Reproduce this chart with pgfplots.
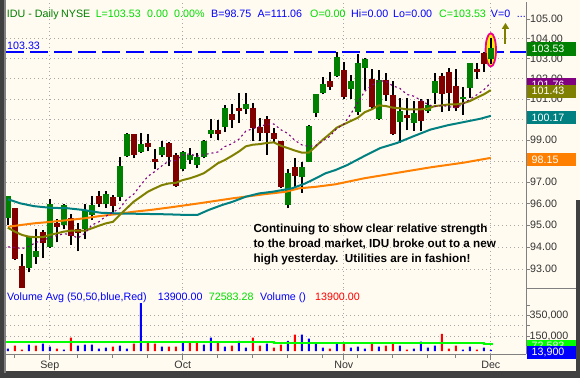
\documentclass[border=0pt]{standalone}
\usepackage{pgfplots}
\pgfplotsset{compat=1.18}
\usepackage{fontspec}
\setmainfont{Liberation Sans}
\usetikzlibrary{arrows.meta}
\definecolor{bg}{HTML}{FFFBF0}
\definecolor{framec}{HTML}{404040}
\definecolor{gridc}{HTML}{A8A8A8}
\definecolor{upc}{HTML}{008000}
\definecolor{dnc}{HTML}{800000}
\definecolor{olivec}{HTML}{808000}
\definecolor{tealc}{HTML}{008080}
\definecolor{orangec}{HTML}{FF8000}
\definecolor{purplec}{HTML}{800080}
\definecolor{limec}{HTML}{00DD00}
\definecolor{labc}{HTML}{333333}
\definecolor{dgreen}{HTML}{008000}
\definecolor{pureblue}{HTML}{0000FF}
\newcommand{\fs}{\fontsize{10.7bp}{12bp}\selectfont}
\pgfplotsset{candle/.style={unbounded coords=jump, empty line=jump}}
\begin{document}
\begin{tikzpicture}
\useasboundingbox (0bp,0bp) rectangle (580bp,378bp);
\fill[framec] (0bp,0bp) rectangle (580bp,378bp);
\fill[gray] (4bp,5bp) rectangle (6bp,378bp);
\fill[bg] (5.5bp,6.5bp) rectangle (576bp,378bp);
\fill[bg] (576bp,178bp) rectangle (580bp,378bp);

% ---------------- price panel (logarithmic price scale) ----------------
\begin{axis}[
  at={(6bp,90bp)}, anchor=south west,
  width=520bp, height=286bp, scale only axis,
  y coord trafo/.code={\pgfmathparse{100*ln(#1)}},
  y coord inv trafo/.code={\pgfmathparse{exp(#1/100)}},
  xmin=-0.257, xmax=74.03,
  ymin=92.147, ymax=105.87,
  clip mode=individual,
  axis x line*=bottom, axis y line*=right,
  x axis line style={draw=none},
  y axis line style={draw=gray, line width=1bp},
  xtick={6,25,48,69}, xticklabels={},
  x tick style={draw=none},
  xmajorgrids,
  ytick={93,94,95,96,97,98,99,100,101,102,103,104},
  yticklabels={93.00,94.00,95.00,96.00,97.00,{},99.00,{},101.00,102.00,103.00,104.00},
  extra y ticks={105}, extra y tick labels={105.00},
  extra y tick style={grid=none},
  ymajorgrids,
  grid style={draw=gridc, line width=0.8bp, dash pattern=on 0.8bp off 3.2bp},
  tick align=outside, major tick length=4bp,
  y tick style={draw=gray, line width=0.8bp},
  yticklabel style={anchor=west, inner sep=0pt, font=\fs, text=labc},
]
% breakout reference line
\addplot[pureblue, line width=1.3bp, dash pattern=on 18bp off 6bp] coordinates {(-0.257,103.33) (74.03,103.33)};
% highlight ellipse around the last bar
\addplot[only marks, mark=*, mark size=5.2bp, mark options={yscale=3.2, fill=yellow, draw=magenta, line width=1.8bp}] coordinates {(69,103.43)};
% wicks (low - high)
\addplot[black, line width=1.6bp, candle] table[header=false] {
0 95.0
0 96.35

1 93.4
1 95.8

2 92.15
2 93.67

3 92.85
3 94.44

4 93.23
4 94.82

5 93.49
5 94.77

6 93.97
6 96.2

7 94.21
7 95.3

8 94.8
8 96.0

9 94.1
9 95.5

10 93.8
10 95.1

11 94.36
11 95.96

12 95.23
12 96.33

13 95.85
13 96.6

14 95.78
14 96.6

15 95.5
15 96.4

16 96.13
16 98.18

17 98.2
17 99.35

18 98.13
18 99.3

19 98.38
19 99.35

20 98.46
20 99.3

21 97.62
21 98.55

22 98.18
22 98.98

23 97.76
23 98.9

24 96.78
24 98.4

25 97.53
25 98.46

26 97.86
26 98.62

27 97.65
27 98.38

28 98.13
28 99.02

29 99.1
29 100.0

30 99.02
30 99.97

31 99.38
31 100.68

32 99.6
32 100.73

33 99.84
33 101.3

34 100.24
34 101.3

35 98.94
35 100.78

36 98.94
36 100.08

37 98.3
37 100.16

38 98.86
38 99.6

39 96.71
39 98.95

40 95.78
40 97.62

41 96.78
41 98.13

42 96.5
42 97.93

43 97.93
43 99.71

44 100.11
44 101.22

45 101.22
45 102.08

46 101.46
46 102.33

47 102.1
47 103.33

48 100.98
48 102.82

49 101.0
49 102.2

50 100.2
50 103.2

51 101.45
51 103.03

52 100.5
52 102.45

53 99.98
53 102.42

54 100.9
54 102.28

55 99.22
55 101.87

56 98.86
56 101.06

57 99.47
57 101.06

58 99.43
58 100.88

59 99.43
59 100.98

60 100.29
60 100.98

61 100.73
61 102.28

62 100.37
62 102.28

63 100.4
63 102.55

64 100.4
64 102.5

65 100.2
65 101.6

66 101.06
66 102.75

67 101.98
67 102.8

68 102.32
68 103.3

69 102.7
69 104.05
};
% up bodies (open - close)
\addplot[upc, line width=6bp, line cap=butt, candle] table[header=false] {
0 95.34
0 96.35

3 93.06
3 94.44

4 93.56
4 93.82

6 94.01
6 95.98

8 95.0
8 95.93

11 94.8
11 95.7

12 95.47
12 95.93

14 95.96
14 96.44

16 96.3
16 97.76

17 98.22
17 99.27

19 98.43
19 98.82

22 98.29
22 98.66

25 97.6
25 98.41

26 98.05
26 98.3

27 97.81
27 98.18

28 98.18
28 98.98

29 99.3
29 99.5

31 99.62
31 100.57

34 100.52
34 100.73

40 95.93
40 97.42

42 97.22
42 97.72

43 97.97
43 99.7

44 100.29
44 101.22

45 101.27
45 101.71

47 102.11
47 103.08

49 101.5
49 101.9

50 100.38
50 102.79

51 102.53
51 102.95

53 100.0
53 101.91

56 99.87
56 100.4

58 99.84
58 100.29

60 100.4
60 100.68

61 101.3
61 101.87

65 100.98
65 101.1

66 101.54
66 102.75

69 102.95
69 103.53
};
% down bodies (open - close)
\addplot[dnc, line width=6bp, line cap=butt, candle] table[header=false] {
1 95.78
1 93.45

2 93.14
2 92.15

5 94.67
5 94.17

7 95.1
7 94.92

9 95.33
9 94.49

10 94.8
10 94.62

13 96.35
13 95.96

15 96.3
15 95.9

18 99.27
18 98.3

20 98.86
20 98.65

21 98.1
21 97.97

23 98.86
23 98.18

24 98.3
24 96.83

30 99.5
30 99.27

32 100.24
32 99.97

33 100.57
33 100.4

35 100.57
35 99.6

36 99.64
36 99.32

37 100.0
37 99.32

38 99.35
38 99.07

39 98.94
39 96.78

41 97.7
41 97.29

46 101.87
46 101.58

48 102.4
48 101.1

52 101.98
52 100.6

54 101.95
54 101.18

55 101.17
55 99.27

57 100.2
57 100.05

59 100.88
59 99.92

62 102.14
62 101.22

63 102.32
63 101.3

64 101.64
64 100.57

67 102.5
67 102.32

68 103.28
68 102.7
};
% 200-day (orange)
\addplot[orangec, line width=2bp] coordinates {
(0,94.92)(1.8,95.0)(3.7,95.08)(6.1,95.15)(8.5,95.23)(10.9,95.31)(13.2,95.42)(15.6,95.51)
(18,95.62)(20.4,95.7)(23.2,95.82)(27.3,96.01)(32.1,96.24)(36.8,96.44)(39.7,96.55)
(41.6,96.71)(44,96.78)(46.8,96.9)(50.9,97.18)(55.6,97.44)(60.4,97.7)(65.1,97.92)(69,98.15)};
% 50-day (teal)
\addplot[tealc, line width=2bp] coordinates {
(0,96.2)(1.8,96.01)(3.7,95.88)(6.1,95.8)(8.5,95.78)(10.8,95.7)(13.2,95.57)(15.7,95.54)
(22.8,95.5)(25.4,95.47)(27.1,95.47)(28.7,95.7)(30.6,95.93)(32.1,96.08)(34,96.32)
(35.9,96.47)(37.8,96.55)(39.2,96.63)(40.6,96.71)(42.5,96.94)(44,97.18)(45.4,97.42)
(46.8,97.57)(48.5,97.81)(50.9,98.23)(53.2,98.62)(55.6,98.86)(58,99.19)(60.4,99.51)
(62.8,99.71)(65.1,99.87)(67.5,100.03)(69,100.17)};
% 20-day (olive)
\addplot[olivec, line width=2bp] coordinates {
(0,94.88)(1,94.7)(2,94.55)(3,94.47)(4,94.44)(5,94.44)(6,94.55)(7,94.62)(8,94.7)(9,94.74)
(10,94.74)(11,94.74)(12,94.85)(13,94.97)(14,95.08)(15,95.15)(16,95.47)(17,95.78)(18,96.09)
(19,96.32)(20,96.55)(21,96.71)(22,96.86)(23,96.94)(24,96.97)(25,97.1)(26,97.18)(27,97.29)
(28,97.42)(29,97.65)(30,97.89)(31,98.05)(32,98.24)(33,98.45)(34,98.7)(35,98.78)(36,98.81)
(37,98.86)(38,98.89)(39,98.73)(40,98.62)(41,98.5)(42,98.4)(43,98.4)(44,98.7)(45,99.02)
(46,99.3)(47,99.6)(48,99.76)(49,99.92)(50,100.08)(51,100.35)(52,100.49)(53,100.68)
(54,100.65)(55,100.57)(56,100.54)(57,100.49)(58,100.49)(59,100.49)(60,100.52)(61,100.65)
(62,100.68)(63,100.73)(64,100.73)(65,100.78)(66,100.89)(67,101.06)(68,101.22)(69,101.43)};
% 10-day (purple dotted)
\addplot[purplec, line width=1.1bp, dash pattern=on 2bp off 3bp] coordinates {
(0,94.0)(1,93.98)(2,93.92)(3,94.02)(4,94.2)(5,94.3)(6,94.42)(7,94.52)(8,94.6)(9,94.57)
(10,94.40)(11,94.62)(12,95.0)(13,95.15)(14,95.41)(15,95.59)(16,95.77)(17,96.2)(18,96.44)
(19,96.87)(20,97.27)(21,97.5)(22,97.77)(23,98.0)(24,98.03)(25,98.29)(26,98.34)(27,98.23)
(28,98.3)(29,98.37)(30,98.43)(31,98.69)(32,98.82)(33,99.04)(34,99.43)(35,99.55)(36,99.65)
(37,99.77)(38,99.78)(39,99.5)(40,99.32)(41,98.99)(42,98.77)(43,98.7)(44,98.74)(45,98.96)
(46,99.18)(47,99.56)(48,99.76)(49,100.27)(50,100.81)(51,101.38)(52,101.66)(53,101.88)
(54,101.88)(55,101.64)(56,101.52)(57,101.22)(58,101.13)(59,100.94)(60,100.73)(61,100.62)
(62,100.68)(63,100.62)(64,100.56)(65,100.74)(66,100.98)(67,101.2)(68,101.44)(69,101.8)};
% arrow
\draw[olivec, line width=2bp, -{Triangle[length=6bp, width=7bp]}] (axis cs:71.1,103.73) -- (axis cs:71.1,104.8);
% right-hand value tags
\fill[purplec] ([xshift=1bp,yshift=-7.6bp]axis cs:74.03,101.76) rectangle ([xshift=50bp,yshift=5.6bp]axis cs:74.03,101.76);
\node[anchor=west, inner sep=0pt, text=white, font=\fs] at ([xshift=5.5bp,yshift=-1bp]axis cs:74.03,101.76) {101.76};
\fill[olivec] ([xshift=1bp,yshift=-7.6bp]axis cs:74.03,101.43) rectangle ([xshift=50bp,yshift=5.6bp]axis cs:74.03,101.43);
\node[anchor=west, inner sep=0pt, text=white, font=\fs] at ([xshift=5.5bp,yshift=-1bp]axis cs:74.03,101.43) {101.43};
\fill[upc] ([xshift=1bp,yshift=-7.6bp]axis cs:74.03,103.53) rectangle ([xshift=50bp,yshift=5.6bp]axis cs:74.03,103.53);
\node[anchor=west, inner sep=0pt, text=white, font=\fs] at ([xshift=5.5bp,yshift=-1bp]axis cs:74.03,103.53) {103.53};
\fill[tealc] ([xshift=1bp,yshift=-8.3bp]axis cs:74.03,100.17) rectangle ([xshift=50bp,yshift=5bp]axis cs:74.03,100.17);
\node[anchor=west, inner sep=0pt, text=white, font=\fs] at ([xshift=5.5bp,yshift=-1.7bp]axis cs:74.03,100.17) {100.17};
\fill[orangec] ([xshift=1bp,yshift=-8.3bp]axis cs:74.03,98.15) rectangle ([xshift=50bp,yshift=5bp]axis cs:74.03,98.15);
\node[anchor=west, inner sep=0pt, text=white, font=\fs] at ([xshift=5.5bp,yshift=-1.7bp]axis cs:74.03,98.15) {98.15};
\end{axis}

% ---------------- volume panel (thousands of shares) ----------------
\begin{axis}[
  at={(6bp,24bp)}, anchor=south west,
  width=520bp, height=66bp, scale only axis,
  xmin=-0.257, xmax=74.03,
  ymin=-27.6, ymax=623,
  clip mode=individual,
  axis x line*=bottom, axis y line*=right,
  x axis line style={draw=gray, line width=1bp},
  y axis line style={draw=gray, line width=1bp},
  xtick={1,10,15,20,30,35,40,45,50,55,60,64}, xticklabels={},
  extra x ticks={6,25,48,69}, extra x tick labels={Sep,Oct,Nov,Dec},
  extra x tick style={grid=major, major tick length=6bp, tick label style={font=\fs, text=labc, anchor=north, inner sep=0pt, yshift=-1bp}},
  ytick={150,250,350}, yticklabels={{150,000},{},{350,000}},
  extra y ticks={450}, extra y tick labels={{}},
  extra y tick style={grid=none},
  ymajorgrids,
  grid style={draw=gridc, line width=0.8bp, dash pattern=on 0.8bp off 3.2bp},
  tick align=outside, major tick length=3.5bp,
  tick style={draw=gray, line width=0.8bp},
  yticklabel style={anchor=west, inner sep=0pt, font=\fs, text=labc},
]
\addplot[ybar, bar width=2bp, bar shift=0pt, fill=pureblue, draw=none] coordinates {
(0,24.6)(3,64)(5,74)(6,44)(8,14.8)(10,54)(11,64)(12,64)(13,24.6)(14,34.5)
(16,54)(17,24.6)(19,475)(22,44)(25,94)(28,64)(29,133)(31,44)(33,103)
(34,34.5)(37,74)(40,103)(42,163)(43,123)(44,74)(45,34.5)(47,84)(49,34.5)
(50,44)(51,24.6)(53,44)(56,54)(58,24.6)(59,94)(60,34.5)(61,54)(65,14.8)
(66,44)(68,34.5)(69,13.9)};
\addplot[ybar, bar width=2bp, bar shift=0pt, fill=red, draw=none] coordinates {
(1,54)(2,14.8)(4,54)(7,24.6)(9,133)(15,44)(18,74)(20,84)(21,74)
(23,44)(24,44)(26,84)(27,84)(30,84)(32,54)(35,133)(36,54)(38,34.5)
(39,64)(41,163)(46,24.6)(48,74)(52,84)(54,54)(55,74)(57,14.8)
(62,172)(63,24.6)(64,54)(67,14.8)};
\addplot[green, line width=2bp, const plot] coordinates {
(-0.257,94)(6,90)(11.2,87)(38,80)(68,72.583)(69.3,72.583)};
\fill[green] ([xshift=1bp,yshift=-3bp]axis cs:74.03,72.583) rectangle ([xshift=50bp,yshift=3.5bp]axis cs:74.03,72.583);
\node[anchor=west, inner sep=0pt, text=white, font=\fs] at ([xshift=5.5bp,yshift=-3bp]axis cs:74.03,72.583) {72,583};
\fill[pureblue] ([xshift=1bp,yshift=-9.5bp]axis cs:74.03,13.9) rectangle ([xshift=50bp,yshift=3.5bp]axis cs:74.03,13.9);
\node[anchor=west, inner sep=0pt, text=white, font=\fs] at ([xshift=5.5bp,yshift=-3bp]axis cs:74.03,13.9) {13,900};
\end{axis}

\draw[gray, line width=1bp] (526bp,89.5bp) -- (576bp,89.5bp);

% ---------------- texts ----------------
\begin{scope}[every node/.style={anchor=base west, inner sep=0pt, font=\fs}]
\node[text=dgreen] at (6.7bp,360.5bp) {IDU - Daily};
\node[text=dgreen] at (61bp,360.5bp) {NYSE};
\node[text=limec] at (95.6bp,360.5bp) {L=103.53};
\node[text=limec] at (147bp,360.5bp) {0.00};
\node[text=limec] at (174bp,360.5bp) {0.00\%};
\node[text=pureblue] at (211bp,360.5bp) {B=98.75};
\node[text=pureblue] at (257.4bp,360.5bp) {A=111.06};
\node[text=limec] at (310bp,360.5bp) {O=0.00};
\node[text=pureblue] at (351bp,360.5bp) {Hi=0.00};
\node[text=pureblue] at (393bp,360.5bp) {Lo=0.00};
\node[text=limec] at (439bp,360.5bp) {C=103.53};
\node[text=pureblue] at (490.7bp,360.5bp) {V=0};
\node[text=pureblue] at (516.7bp,360.5bp) {...};
\node[text=pureblue] at (7bp,328.5bp) {103.33};
\node[text=pureblue] at (7bp,77.2bp) {Volume Avg (50,50,blue,Red)};
\node[text=pureblue] at (157.7bp,77.2bp) {13900.00};
\node[text=limec] at (208.7bp,77.2bp) {72583.28};
\node[text=pureblue] at (260bp,77.2bp) {Volume ()};
\node[text=red] at (315bp,77.2bp) {13900.00};
\end{scope}
\begin{scope}[every node/.style={anchor=base west, inner sep=0pt, font=\fontsize{11.7bp}{13bp}\selectfont\bfseries, text=black}]
\node at (253.3bp,145.5bp) {Continuing to show clear relative strength};
\node at (253.3bp,130.5bp) {to the broad market, IDU broke out to a new};
\node at (253.3bp,115.5bp) {high yesterday.\ \ Utilities are in fashion!};
\end{scope}
\end{tikzpicture}
\end{document}
